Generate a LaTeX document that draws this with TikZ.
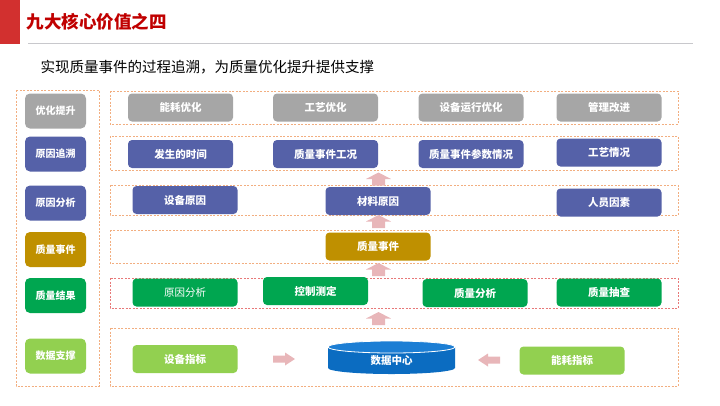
\documentclass[tikz,border=0pt]{standalone}
\usepackage{fontspec}
\setmainfont{Noto Sans CJK SC}

\definecolor{titlered}{HTML}{C00000}
\definecolor{barred}{HTML}{D2302F}
\definecolor{linegray}{HTML}{C8C8CC}
\definecolor{boxgray}{HTML}{A6A6A6}
\definecolor{boxblue}{HTML}{5561A8}
\definecolor{boxgold}{HTML}{BF9000}
\definecolor{boxgreen}{HTML}{00A650}
\definecolor{boxlime}{HTML}{92D050}
\definecolor{cylblue}{HTML}{0B6CC1}
\definecolor{cyltop}{HTML}{1C7ED4}
\definecolor{arrowpink}{HTML}{E8B6B9}
\definecolor{dashorange}{HTML}{F2AE80}
\definecolor{dashred}{HTML}{E87878}

\begin{document}
\begin{tikzpicture}[x=1pt,y=-1pt,
    tag/.style={rounded corners=5pt, minimum width=61pt, minimum height=35pt, inner sep=0pt, text=white, font=\fontsize{10}{12}\selectfont\bfseries},
    item/.style={rounded corners=4pt, minimum width=105pt, minimum height=28pt, inner sep=0pt, text=white, font=\fontsize{10.5}{12}\selectfont\bfseries},
    layer/.style={draw=dashorange, line width=0.7pt, dash pattern=on 2pt off 1.5pt},
    uparrow/.pic={\fill[arrowpink] (-6.5,6.5) -- (-6.5,0) -- (-12.5,0) -- (0,-6.5) -- (12.5,0) -- (6.5,0) -- (6.5,6.5) -- cycle;},
    sidearrow/.pic={\fill[arrowpink] (-11,-3.5) -- (1,-3.5) -- (1,-6.5) -- (11,0) -- (1,6.5) -- (1,3.5) -- (-11,3.5) -- cycle;}]
\useasboundingbox (0,0) rectangle (720,405);

\fill[barred] (0,0) rectangle (20,44);
\node[anchor=west, text=titlered, font=\fontsize{17.5}{20}\selectfont\bfseries] (title) at (23,22) {九大核心价值之四};
\draw[linegray, line width=0.8pt] (28,43) -- (693,43);
\node[anchor=west, font=\fontsize{14.5}{16}\selectfont] (subtitle) at (37,67) {实现质量事件的过程追溯，为质量优化提升提供支撑};

\draw[layer] (16,90) rectangle (99,386);
\draw[layer] (110,91) rectangle (678,124);
\draw[layer] (110,136) rectangle (678,170);
\draw[layer] (110,185) rectangle (678,215);
\draw[layer] (110,230) rectangle (678,263);
\draw[layer, draw=dashred] (110,278) rectangle (678,308);
\draw[layer] (110,328) rectangle (678,386);

\node[tag, fill=boxgray] (t1) at (55.5,111) {优化提升};
\node[tag, fill=boxblue] (t2) at (55.5,154) {原因追溯};
\node[tag, fill=boxblue] (t3) at (55.5,203) {原因分析};
\node[tag, fill=boxgold] (t4) at (55.5,249.5) {质量事件};
\node[tag, fill=boxgreen] (t5) at (55.5,295.5) {质量结果};
\node[tag, fill=boxlime] (t6) at (55.5,356) {数据支撑};

\node[item, fill=boxgray] (opt1) at (180.5,107.5) {能耗优化};
\node[item, fill=boxgray] (opt2) at (325.5,107.5) {工艺优化};
\node[item, fill=boxgray] (opt3) at (471,107.5) {设备运行优化};
\node[item, fill=boxgray] (opt4) at (609,107.5) {管理改进};

\node[item, fill=boxblue] (tr1) at (180.5,154) {发生的时间};
\node[item, fill=boxblue] (tr2) at (325.5,154) {质量事件工况};
\node[item, fill=boxblue] (tr3) at (471,154) {质量事件参数情况};
\node[item, fill=boxblue] (tr4) at (609,152.5) {工艺情况};

\node[item, fill=boxblue] (an1) at (185,200) {设备原因};
\node[item, fill=boxblue] (an2) at (378,201) {材料原因};
\node[item, fill=boxblue] (an3) at (609,202.5) {人员因素};

\node[item, fill=boxgold] (ev) at (378,246.5) {质量事件};

\node[item, fill=boxgreen, font=\fontsize{10.5}{12}\selectfont] (rs1) at (185,292.5) {原因分析};
\node[item, fill=boxgreen] (rs2) at (315.5,291) {控制测定};
\node[item, fill=boxgreen] (rs3) at (475,293) {质量分析};
\node[item, fill=boxgreen] (rs4) at (609,292.5) {质量抽查};

\node[item, fill=boxlime] (ds1) at (185,359) {设备指标};
\node[item, fill=boxlime] (ds2) at (572,360.5) {能耗指标};

\fill[cylblue] (328,347) -- (328,368) arc[start angle=180, end angle=360, x radius=63.5pt, y radius=6pt] -- (455,347) -- cycle;
\filldraw[fill=cyltop, draw=white, line width=0.8pt] (391.5,347) ellipse[x radius=63.5pt, y radius=6pt];
\node[text=white, font=\fontsize{10.5}{12}\selectfont\bfseries] (dc) at (391.5,361) {数据中心};

\pic (up1) at (378.5,179) {uparrow};
\pic (up2) at (378.5,221.5) {uparrow};
\pic (up3) at (378.5,269.5) {uparrow};
\pic (up4) at (378.5,318.5) {uparrow};
\pic (in1) at (284,359) {sidearrow};
\pic[xscale=-1] (in2) at (489,360) {sidearrow};
\end{tikzpicture}
\end{document}
